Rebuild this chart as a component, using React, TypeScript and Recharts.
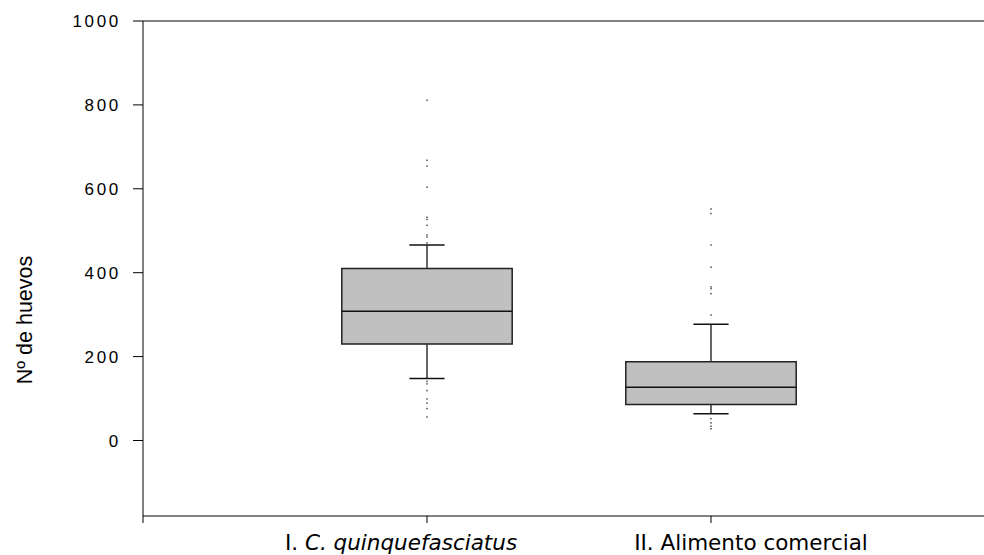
import React from 'react'
import { ComposedChart, XAxis, YAxis, Scatter, ReferenceArea, ReferenceLine } from 'recharts'

// groups on a numeric x axis (0..3), boxes centred at 1 and 2
const groupPos = [1, 2]
const groupPrefix = ['I. ', 'II. ']
const groupName = ['C. quinquefasciatus', 'Alimento comercial']
const groupItalic = [true, false]
// the labels sit a little off their ticks in the original
const labelShift = [-26, 40]

// box statistics
const q1 = [230, 86]
const median = [308, 127]
const q3 = [410, 188]
const whiskerLow = [148, 64]
const whiskerHigh = [466, 277]

// outlying points
const outliers1 = [811, 668, 654, 604, 532, 527, 513, 490, 485, 471, 141, 135, 119, 99, 89, 76, 56]
const outliers2 = [552, 541, 466, 413, 366, 362, 350, 299, 52, 42, 34, 28]

const yTicks = [0, 200, 400, 600, 800, 1000]
const xTicks = [0, 1, 2, 3]

const boxHalf = 0.3
const capHalf = 0.062

const outlierData = [
  ...outliers1.map((v) => ({ x: groupPos[0], y: v })),
  ...outliers2.map((v) => ({ x: groupPos[1], y: v })),
]

function CategoryTick(props: any) {
  const { x, y, payload } = props
  const i = groupPos.indexOf(payload.value)
  if (i < 0) return null
  return (
    <text x={x + labelShift[i]} y={y} dy={25} textAnchor="middle" fontFamily="DejaVu Sans" fontSize={21.5} fill="#000">
      <tspan>{groupPrefix[i]}</tspan>
      <tspan fontStyle={groupItalic[i] ? 'italic' : 'normal'}>{groupName[i]}</tspan>
    </text>
  )
}

function YTitle() {
  return (
    <text x={32} y={320} transform="rotate(-90, 32, 320)" textAnchor="middle"
      fontFamily="Liberation Sans" fontSize={21.5} fill="#000">
      Nº de huevos
    </text>
  )
}

function Dot(props: any) {
  const { cx, cy } = props
  return <rect x={cx - 1} y={cy - 0.75} width={2} height={1.5} fill="#7a7a7a" />
}

export default function App() {
  return (
    <div style={{ position: 'absolute', left: 0, top: 0, width: 984, height: 555, overflow: 'hidden', background: '#fff' }}>
      <ComposedChart width={1000} height={555} margin={{ top: 21, right: 5, bottom: 0, left: 0 }}>
        <XAxis
          type="number"
          dataKey="x"
          domain={[0, 3]}
          ticks={xTicks}
          interval={0}
          height={39}
          tickSize={7}
          stroke="#000"
          axisLine={{ stroke: '#000' }}
          tickLine={{ stroke: '#000' }}
          tick={<CategoryTick />}
          allowDataOverflow
        />
        <YAxis
          type="number"
          domain={[-180, 1000]}
          ticks={yTicks}
          interval={0}
          width={143}
          tickSize={10}
          tickMargin={12}
          stroke="#000"
          axisLine={{ stroke: '#000' }}
          tickLine={{ stroke: '#000' }}
          tick={{ fill: '#000', fontSize: 17, fontFamily: 'Liberation Sans', letterSpacing: 2.7 }}
          label={<YTitle />}
          allowDataOverflow
        />
        <ReferenceLine y={1000} stroke="#000" strokeWidth={1} />
        <ReferenceLine x={3} stroke="#000" strokeWidth={1} />
        {groupPos.map((p, i) => (
          <ReferenceLine key={'wl' + i} segment={[{ x: p, y: whiskerLow[i] }, { x: p, y: q1[i] }]} stroke="#333" strokeWidth={1.5} />
        ))}
        {groupPos.map((p, i) => (
          <ReferenceLine key={'wh' + i} segment={[{ x: p, y: q3[i] }, { x: p, y: whiskerHigh[i] }]} stroke="#333" strokeWidth={1.5} />
        ))}
        {groupPos.map((p, i) => (
          <ReferenceLine key={'cl' + i} segment={[{ x: p - capHalf, y: whiskerLow[i] }, { x: p + capHalf, y: whiskerLow[i] }]} stroke="#111" strokeWidth={1.5} />
        ))}
        {groupPos.map((p, i) => (
          <ReferenceLine key={'ch' + i} segment={[{ x: p - capHalf, y: whiskerHigh[i] }, { x: p + capHalf, y: whiskerHigh[i] }]} stroke="#111" strokeWidth={1.5} />
        ))}
        {groupPos.map((p, i) => (
          <ReferenceArea key={'box' + i} x1={p - boxHalf} x2={p + boxHalf} y1={q1[i]} y2={q3[i]}
            fill="#c0c0c0" fillOpacity={1} stroke="#222" strokeWidth={1.5} />
        ))}
        {groupPos.map((p, i) => (
          <ReferenceLine key={'med' + i} segment={[{ x: p - boxHalf, y: median[i] }, { x: p + boxHalf, y: median[i] }]} stroke="#111" strokeWidth={1.5} />
        ))}
        <Scatter data={outlierData} dataKey="y" shape={<Dot />} isAnimationActive={false} />
      </ComposedChart>
    </div>
  )
}
